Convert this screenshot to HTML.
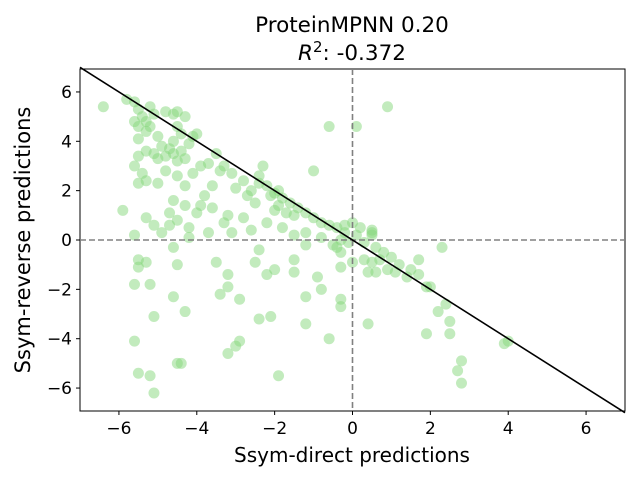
<!DOCTYPE html>
<html><head><meta charset="utf-8"><style>
body{margin:0;background:#fff}
svg{display:block;font-family:"DejaVu Sans","Liberation Sans",sans-serif}
</style></head><body>
<svg id="chart" width="640" height="480" viewBox="0 0 640 480">
<text x="352" y="32" text-anchor="middle" font-size="21.5">ProteinMPNN 0.20</text>
<text x="352" y="60" text-anchor="middle" font-size="21.5"><tspan font-style="italic">R</tspan><tspan dy="-8" font-size="15">2</tspan><tspan dy="8">: -0.372</tspan></text>
<g id="plot"></g>
<text x="352" y="462" text-anchor="middle" font-size="20">Ssym-direct predictions</text>
<text transform="translate(30,240) rotate(-90)" text-anchor="middle" font-size="21">Ssym-reverse predictions</text>
</svg>
<script>
const xs=[-6.4,-5.8,-5.6,-5.5,-5.4,-5.6,-5.5,-5.3,-5.2,-5.1,-5.3,-5.2,-5.0,-4.8,-4.6,-4.5,-4.3,-4.5,-4.4,-4.6,-4.2,-4.1,-4.0,-5.5,-5.3,-5.1,-5.0,-4.8,-4.7,-4.9,-4.6,-4.5,-4.3,-4.4,-5.5,-5.6,-5.4,-5.5,-5.3,-5.0,-4.8,-4.5,-4.3,-4.1,-3.9,-3.7,-3.5,-3.3,-3.1,-3.4,-3.0,-2.8,-2.6,-2.4,-2.2,-2.0,-1.8,-1.6,-1.4,-1.2,-1.0,-0.8,-0.6,-0.4,-0.2,-2.4,-2.3,-2.1,-1.9,-1.7,-1.5,-1.9,-2.5,-2.7,-3.6,-3.8,-3.9,-3.6,-4.0,-4.3,-4.6,-4.7,-4.5,-4.2,-4.7,-5.9,-5.3,-5.1,-4.9,-5.6,-4.2,-3.7,-3.3,-3.2,-3.1,-2.8,-2.6,-2.2,-2.0,-1.8,-1.5,-1.2,-0.8,-0.5,-0.3,-0.1,0.1,0.3,0.5,0.6,0.8,1.0,1.2,1.5,2.0,2.4,-1.0,-0.6,0.1,0.9,
-5.5,-5.5,-5.3,-5.6,-5.2,-4.5,-4.6,-4.3,-4.6,-3.5,-3.2,-3.2,-3.4,-2.9,-2.4,-2.5,-2.2,-2.0,-1.5,-1.5,-1.2,-1.2,-0.9,-0.8,-0.6,-0.3,-0.3,0.0,-0.4,0.3,0.4,0.5,0.7,0.9,0.6,1.1,1.4,1.7,1.9,2.2,2.5,2.5,1.9,2.8,2.7,2.8,3.9,4.0,-5.6,-5.1,-4.4,-4.5,-5.5,-5.2,-5.1,-3.2,-3.0,-2.9,-2.4,-2.1,-1.9,-1.2,-0.3,-0.3,0.4,1.7,2.3,0.5,0.5,0.0,-0.2,0.2];
const ys=[5.4,5.7,5.6,5.3,5.0,4.8,4.6,4.8,5.4,5.1,4.4,4.6,4.2,5.2,5.1,5.2,5.0,4.6,4.3,4.0,3.9,4.2,4.3,4.1,3.6,3.5,3.3,3.4,3.7,3.8,3.5,3.2,3.3,3.6,3.4,3.0,2.7,2.3,2.4,2.3,2.8,2.6,2.2,2.7,3.0,3.1,3.5,3.0,2.7,2.8,2.1,2.4,2.0,2.3,2.2,1.9,1.7,1.5,1.3,1.1,0.9,0.7,0.6,0.5,0.3,2.6,3.0,1.8,1.4,1.1,1.0,2.0,1.5,1.8,2.2,1.8,1.4,1.3,1.1,1.4,1.6,1.1,0.8,0.5,0.6,1.2,0.9,0.6,0.3,0.2,0.1,0.3,0.7,1.0,0.3,0.9,0.4,0.7,1.2,0.5,0.2,0.3,0.1,-0.2,0.0,-0.1,0.2,-0.1,0.3,-0.3,-0.5,-0.7,-1.0,-1.2,-1.9,-2.6,2.8,4.6,4.6,5.4,
-0.8,-1.1,-0.9,-1.8,-1.8,-1.0,-2.3,-2.9,-0.3,-0.9,-1.4,-1.9,-2.2,-2.4,-0.4,-0.9,-1.4,-1.2,-1.3,-0.8,-2.3,-0.2,-1.5,-2.0,-4.0,-1.1,-0.5,-0.9,-0.3,-0.8,-1.3,-0.9,-0.8,-1.2,-1.3,-1.3,-1.5,-1.4,-1.9,-2.9,-3.3,-3.8,-3.8,-4.9,-5.3,-5.8,-4.2,-4.1,-4.1,-3.1,-5.0,-5.0,-5.4,-5.5,-6.2,-4.6,-4.3,-4.1,-3.2,-3.1,-5.5,-3.4,-2.4,-2.7,-3.4,-0.8,-0.3,0.4,0.2,0.7,0.6,0.5];
const xTicks=[-6,-4,-2,0,2,4,6];
const yTicks=[-6,-4,-2,0,2,4,6];
const xMin=-7,xMax=7,yMin=-6.93,yMax=6.93;
const L=80,R=625,T=69,B=411;
const sx=v=>L+(v-xMin)/(xMax-xMin)*(R-L);
const sy=v=>B-(v-yMin)/(yMax-yMin)*(B-T);
const NS="http://www.w3.org/2000/svg";
const g=document.getElementById('plot');
function mk(t,a){const e=document.createElementNS(NS,t);for(const k in a)e.setAttribute(k,a[k]);g.appendChild(e);return e;}
let e=mk('rect',{x:L,y:T,width:R-L,height:B-T,fill:'none',stroke:'#000','stroke-width':1});


for(let i=0;i<xs.length;i++){
 const c=mk('circle',{cx:sx(xs[i]),cy:sy(ys[i]),r:5.5,fill:'#86d87c','fill-opacity':0.5});
 
 
}
e=mk('line',{x1:sx(0),x2:sx(0),y1:T,y2:B,stroke:'#808080','stroke-width':1.6,'stroke-dasharray':'6,3'});


e=mk('line',{x1:L,x2:R,y1:sy(0),y2:sy(0),stroke:'#808080','stroke-width':1.6,'stroke-dasharray':'6,3'});


e=mk('line',{x1:sx(-7),y1:sy(7),x2:sx(7),y2:sy(-7),stroke:'#000','stroke-width':1.6});


xTicks.forEach(v=>{
 const t=mk('line',{x1:sx(v),x2:sx(v),y1:B,y2:B+4,stroke:'#000'});
 
 
 const l=mk('text',{x:sx(v),y:B+23,'text-anchor':'middle','font-size':17});
 l.textContent=(v<0?'\u2212'+(-v):v);
 
 
});
yTicks.forEach(v=>{
 const t=mk('line',{x1:L-4,x2:L,y1:sy(v),y2:sy(v),stroke:'#000'});
 
 
 const l=mk('text',{x:L-8,y:sy(v)+6,'text-anchor':'end','font-size':17});
 l.textContent=(v<0?'\u2212'+(-v):v);
 
 
});
</script>
</body></html>
